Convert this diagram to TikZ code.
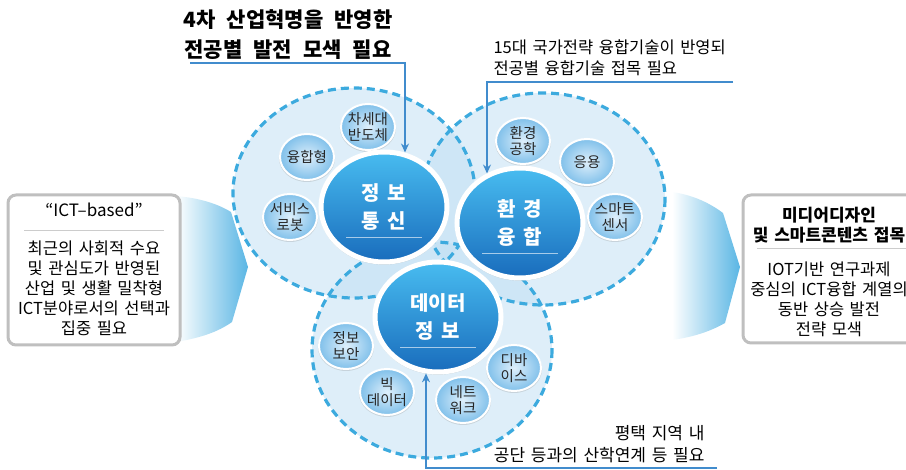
\documentclass[tikz,border=0pt]{standalone}
\usepackage{fontspec}
\setmainfont[WordSpace=1.5]{Noto Sans CJK KR}
\newfontfamily\hubfont[WordSpace=1.6]{Noto Sans CJK KR}
\newcommand\gap{\hspace{11pt}}
\usetikzlibrary{shapes.geometric,shadows,arrows.meta}

\definecolor{zonefill}{RGB}{190,222,243}
\definecolor{zoneline}{RGB}{60,170,222}
\definecolor{ballhi}{RGB}{72,188,240}
\definecolor{balllo}{RGB}{25,108,188}
\definecolor{bubblein}{RGB}{222,239,251}
\definecolor{bubbleout}{RGB}{128,192,234}
\definecolor{guideblue}{RGB}{65,140,205}
\definecolor{arrowblue}{RGB}{90,182,228}

\begin{document}
\begin{tikzpicture}[x=1pt, y=-1pt, font=\fontsize{16.5}{20}\selectfont,
  >={Stealth[length=9pt,width=8pt]},
  hub/.style={ellipse, draw=white, line width=5pt, minimum width=126pt, minimum height=110pt,
    top color=ballhi, bottom color=balllo, text=white, align=center,
    font=\hubfont\bfseries\fontsize{20}{28}\selectfont,
    drop shadow={shadow xshift=0pt, shadow yshift=-1pt, shadow scale=1.03, opacity=.3},
    path picture={\draw[white, opacity=.6, line width=1pt]
      ([xshift=-38pt,yshift=-31pt]path picture bounding box.center) -- ++(76pt,0pt);}},
  bubble/.style={ellipse, draw=white, line width=2pt, minimum width=54pt, minimum height=46pt,
    inner xsep=-6pt, inner ysep=-4pt, inner color=bubblein, outer color=bubbleout, align=center,
    font=\fontsize{14.5}{16}\selectfont, text=black!85,
    drop shadow={shadow xshift=0pt, shadow yshift=-1pt, shadow scale=1.04, opacity=.25}},
  infobox/.style={rounded corners=8pt, draw=black!25, line width=3pt, fill=white,
    drop shadow={shadow xshift=1pt, shadow yshift=-1pt, opacity=.25}},
  headtext/.style={align=center, font=\bfseries\fontsize{21}{30}\selectfont},
  notetext/.style={font=\fontsize{16.5}{21}\selectfont},
  guide/.style={draw=guideblue, line width=1.5pt}]

\useasboundingbox (0,0) rectangle (906,470);
\clip (0,0) rectangle (906,470);

% big arrows
\begin{scope}[left color=white, right color=arrowblue]
\path[shade] (176,196) .. controls (200,198) and (218,204) .. (231,212) -- (248,267) -- (232,322)
  .. controls (218,332) and (200,338) .. (176,342) -- cycle;
\path[shade] (672,192) .. controls (694,195) and (711,204) .. (723,213) -- (740,267) -- (725,323)
  .. controls (711,331) and (694,337) .. (672,340) -- cycle;
\end{scope}

% zones
\begin{scope}[fill=zonefill, fill opacity=.5]
\foreach \x/\y/\rx/\ry in {354/193/121/105, 543/199/122/106, 432/350/120/108}
\fill (\x,\y) ellipse [x radius=\rx, y radius=\ry];
\end{scope}

\begin{scope}[draw=zoneline, line width=3.2pt, dash pattern=on 8pt off 5pt]
\foreach \x/\y/\rx/\ry in {354/193/121/105, 543/199/122/106, 432/350/120/108}
\draw (\x,\y) ellipse [x radius=\rx, y radius=\ry];
\end{scope}

% small bubbles
\foreach \x/\y/\nm/\txt in {368/127/semi/{차세대\\반도체}, 307/157/conv/{융합형},
  290/217/robot/{서비스\\로봇}, 523/141/enveng/{환경\\공학}, 587/162/appl/{응용},
  615/217/sensor/{스마트\\센서}, 346/346/secu/{정보\\보안}, 387/392/big/{빅\\데이터},
  463/400/net/{네트\\워크}, 514/368/dev/{디바\\이스}}
\node[bubble] (\nm) at (\x,\y) {\txt};

% hubs
\node[hub] (ict) at (384,207) {정 보\\통 신};
\node[hub] (env) at (520,223) {환 경\\융 합};
\node[hub] (dat) at (438,317) {데이터\\정 보};

% side boxes
\node[infobox, minimum width=172pt, minimum height=150pt] (leftbox) at (94,270) {};
\node[font=\fontsize{17}{20}\selectfont] (lefthead) at (94,210) {“ICT–based”};
\draw[black!20, line width=.8pt] (24,230) -- (164,230);
\node[align=center] (leftbody) at (94,288)
  {최근의 사회적 수요\\및 관심도가 반영된\\산업 및 생활 밀착형\\ICT분야로서의 선택과\\집중 필요};

\node[infobox, minimum width=180pt, minimum height=148pt] (rightbox) at (833,269) {};
\node[align=center, font=\bfseries\fontsize{17}{20}\selectfont] (righthead) at (829,225)
  {미디어디자인\\및 스마트콘텐츠 접목};
\draw[black!20, line width=.8pt] (757,248) -- (906,248);
\node[align=center] (rightbody) at (829,299)
  {IOT기반 연구과제\\중심의 ICT융합 계열의\\동반 상승 발전\\전략 모색};

% notes and guides
\node[headtext] (need1) at (288,35)
  {4차\gap 산업혁명을\gap 반영한\\전공별\gap 발전\gap 모색\gap 필요};
\node[notetext, anchor=west, align=left] (need2) at (490,57.5)
  {15대 국가전략 융합기술이 반영되\\전공별 융합기술 접목 필요};
\node[notetext, anchor=east, align=right, font=\fontsize{17}{22}\selectfont] (need3) at (708,444)
  {평택 지역 내\\공단 등과의 산학연계 등 필요};

\coordinate (need1l) at (190,63);
\coordinate (need1r) at (405,63);
\coordinate (need2l) at (487,82);
\coordinate (need2r) at (733,82);
\coordinate (need3l) at (426,468);
\coordinate (need3r) at (717,468);

\draw[guide,->] (need1l) -- (need1r) -- (need1r |- ict.69);
\draw[guide,->] (need2r) -- (need2l) -- (need2l |- env.124);
\draw[guide,->] (need3r) -- (need3l) -- (need3l |- dat.257);

\end{tikzpicture}
\end{document}
